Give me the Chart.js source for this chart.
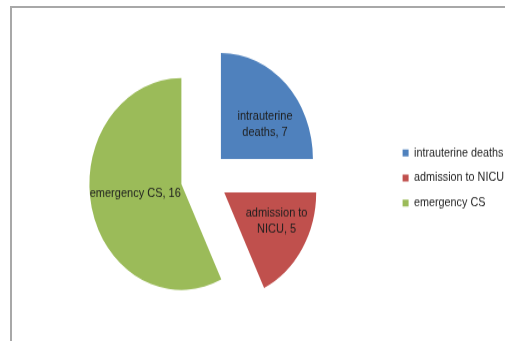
<!DOCTYPE html>
<html>
<head>
<meta charset="utf-8">
<script src="https://cdn.jsdelivr.net/npm/chart.js@4"></script>
<style>
  html, body { margin: 0; padding: 0; background: #fff; overflow: hidden; }
  #frame {
    position: absolute; left: 10px; top: 6px; width: 600px; height: 400px;
    border-left: 2px solid #a8a8a8; border-top: 2px solid #a8a8a8;
  }
  #wrap {
    position: absolute; left: 0; top: 0; width: 505px; height: 296px;
    transform: scaleY(1.152); transform-origin: 0 0;
  }
</style>
</head>
<body>
<div id="frame"></div>
<div id="wrap"><canvas id="pieChart" width="505" height="296" style="width:505px;height:296px"></canvas></div>
<script>
const categories = ['intrauterine deaths', 'admission to NICU', 'emergency CS'];
const counts = [7, 5, 16];
const sliceColors = ['#4f81bd', '#c0504d', '#9bbb59'];

// every slice is pulled out the same distance from the centre
const EXPLODE = 23.5;
const LABEL_POS = 0.57;
const labelNudge = [[7, 7], [8, -3], [5, -3]];

function wrapText(ctx, text, maxWidth) {
  const words = text.split(' ');
  const lines = [];
  let line = '';
  words.forEach(w => {
    const test = line ? line + ' ' + w : w;
    if (line && ctx.measureText(test).width > maxWidth) {
      lines.push(line);
      line = w;
    } else {
      line = test;
    }
  });
  lines.push(line);
  return lines;
}

// move each arc's centre outwards along its own mid angle
const explodeSlices = {
  id: 'explodeSlices',
  afterDatasetsUpdate(chart) {
    chart.getDatasetMeta(0).data.forEach(arc => {
      const mid = (arc.startAngle + arc.endAngle) / 2;
      arc.x += Math.cos(mid) * EXPLODE;
      arc.y += Math.sin(mid) * EXPLODE;
    });
  }
};

const sliceLabels = {
  id: 'sliceLabels',
  afterDatasetsDraw(chart) {
    const ctx = chart.ctx;
    const meta = chart.getDatasetMeta(0);
    ctx.save();
    ctx.font = '11px "Liberation Sans", Arial, sans-serif';
    ctx.fillStyle = '#1e1e1e';
    ctx.textAlign = 'center';
    ctx.textBaseline = 'middle';
    meta.data.forEach((arc, i) => {
      const mid = (arc.startAngle + arc.endAngle) / 2;
      const dist = arc.outerRadius * LABEL_POS;
      const x = arc.x + Math.cos(mid) * dist + labelNudge[i][0];
      const y = arc.y + Math.sin(mid) * dist + labelNudge[i][1];
      const sweep = arc.endAngle - arc.startAngle;
      const lines = wrapText(ctx, categories[i] + ', ' + counts[i], sweep >= Math.PI ? 150 : 75);
      const lh = 14;
      lines.forEach((ln, k) => {
        ctx.fillText(ln, x, y + (k - (lines.length - 1) / 2) * lh);
      });
    });
    ctx.restore();
  }
};

new Chart(document.getElementById('pieChart'), {
  type: 'pie',
  data: {
    labels: categories,
    datasets: [
      {
        data: counts,
        backgroundColor: sliceColors,
        borderWidth: 0,
        hoverOffset: 0,
      },
    ],
  },
  options: {
    responsive: false,
    animation: false,
    radius: 92,
    layout: {
      padding: { left: 17, right: -9, top: 13, bottom: 0 },
    },
    plugins: {
      legend: {
        position: 'right',
        labels: {
          boxWidth: 6,
          boxHeight: 6,
          padding: 11,
          color: '#1e1e1e',
          font: { family: '"Liberation Sans", Arial, sans-serif', size: 10.8 },
        },
      },
      tooltip: { enabled: false },
    },
  },
  plugins: [explodeSlices, sliceLabels],
});
</script>
</body>
</html>
